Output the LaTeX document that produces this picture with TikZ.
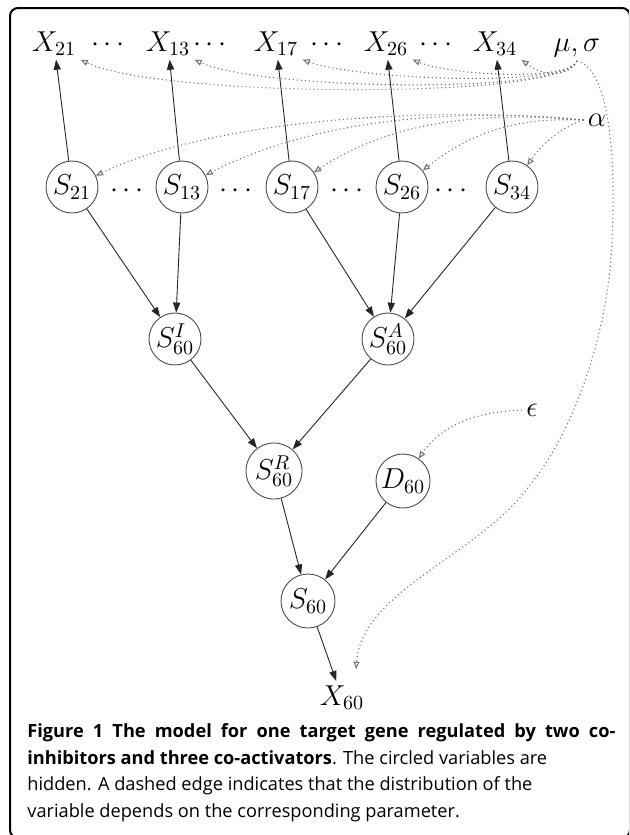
\documentclass[tikz,border=0pt]{standalone}
\usepackage{fontspec}
\newfontfamily\capfont{Open Sans}
\usetikzlibrary{arrows.meta,calc}
\begin{document}
\begin{tikzpicture}[x=0.5pt,y=-0.5pt,
  every node/.style={font=\fontsize{14.4}{16}\selectfont},
  lab/.style={inner sep=2pt},
  hid/.style={circle,draw=black!70,line width=0.45pt,inner sep=0pt,minimum size=26pt},
  hedge/.style={draw=black!85,line width=0.45pt,-{Triangle[length=5pt,width=3.6pt]}},
  pedge/.style={draw=black!55,line width=0.55pt,dash pattern=on 0.55pt off 1.45pt,-{Triangle[open,length=3.6pt,width=3pt]}},
  captext/.style={font=\capfont\fontsize{9.1}{11}\selectfont,inner sep=0pt,anchor=base west}
]
\useasboundingbox (0,0) rectangle (629,835);
\clip (0,0) rectangle (629,835);
\draw[line width=1pt,rounded corners=4pt] (10,8) rectangle (630,838);

% top row
\node[lab,anchor=base] (x21) at (54,51) {$X_{21}$};
\node[lab,anchor=base] (x13) at (168,51) {$X_{13}$};
\node[lab,anchor=base] (x17) at (276,51) {$X_{17}$};
\node[lab,anchor=base] (x26) at (386,51) {$X_{26}$};
\node[lab,anchor=base] (x34) at (495,51) {$X_{34}$};
\node[lab,anchor=base] (ms) at (577,51) {$\mu,\sigma$};
\node[lab,anchor=base] (dt1) at (108,51) {$\cdots$};
\node[lab,anchor=base] (dt2) at (210,51) {$\cdots$};
\node[lab,anchor=base] (dt3) at (327,51) {$\cdots$};
\node[lab,anchor=base] (dt4) at (436,51) {$\cdots$};
\node[lab] (alpha) at (597,120) {$\alpha$};

% S row
\node[hid] (s21) at (72,187) {$S_{21}$};
\node[hid] (s13) at (182,187) {$S_{13}$};
\node[hid] (s17) at (292,187) {$S_{17}$};
\node[hid] (s26) at (402,187) {$S_{26}$};
\node[hid] (s34) at (512,187) {$S_{34}$};
\node[lab,anchor=base] (ds1) at (127,197) {$\cdots$};
\node[lab,anchor=base] (ds2) at (236,197) {$\cdots$};
\node[lab,anchor=base] (ds3) at (347,197) {$\cdots$};
\node[lab,anchor=base] (ds4) at (451,197) {$\cdots$};

\node[hid,font=\fontsize{14}{16}\selectfont] (si) at (175,339) {$S^{I}_{60}$};
\node[hid,font=\fontsize{14}{16}\selectfont] (sa) at (388,339) {$S^{A}_{60}$};
\node[hid,minimum size=28pt,font=\fontsize{14}{16}\selectfont] (sr) at (274,471) {$S^{R}_{60}$};
\node[hid,minimum size=27pt] (d60) at (403,481) {$D_{60}$};
\node[hid,minimum size=27pt] (s60) at (308,601) {$S_{60}$};
\node[lab,anchor=base] (x60) at (342,705) {$X_{60}$};
\node[lab] (eps) at (532,410) {$\epsilon$};

% solid edges
\foreach \a/\b in {s21/x21,s13/x13,s17/x17,s26/x26,s34/x34,
  s21/si,s13/si,s17/sa,s26/sa,s34/sa,si/sr,sa/sr,sr/s60,d60/s60,s60/x60}
  \draw[hedge] (\a) -- (\b);

% parameter edges
\draw[pedge] (ms.south) .. controls (566,100) and (160,98) .. (x21.south east);
\draw[pedge] (ms.south) .. controls (566,95) and (260,90) .. (x13.south east);
\draw[pedge] (ms.south) .. controls (567,88) and (360,80) .. (x17.south east);
\draw[pedge] (ms.south) .. controls (568,82) and (450,75) .. (x26.south east);
\draw[pedge] (ms.south) .. controls (570,76) and (545,78) .. (x34.south east);
\draw[pedge] (ms.south) .. controls (605,66) and (617,140) .. (612,240)
  .. controls (609,330) and (575,430) .. (530,485)
  .. controls (480,555) and (362,590) .. ($(x60.north)+(14,-12)$);

\draw[pedge] (alpha.west) .. controls (470,108) and (230,112) .. (s21);
\draw[pedge] (alpha.west) .. controls (480,110) and (330,112) .. (s13);
\draw[pedge] (alpha.west) .. controls (500,113) and (400,115) .. (s17);
\draw[pedge] (alpha.west) .. controls (530,118) and (480,125) .. (s26);
\draw[pedge] (alpha.west) .. controls (565,126) and (545,140) .. (s34);

\draw[pedge] (eps.west) .. controls (470,412) and (440,428) .. (d60);

% caption
\node[captext] (cap1) at (27,737) {\makebox[294pt][s]{\bfseries Figure 1 The model for one target gene regulated by two co-}};
\node[captext] (cap2) at (27,764) {{\bfseries inhibitors and three co-activators}. The circled variables are};
\node[captext] (cap3) at (27,790.5) {hidden. A dashed edge indicates that the distribution of the};
\node[captext] (cap4) at (27,817) {variable depends on the corresponding parameter.};
\end{tikzpicture}
\end{document}
